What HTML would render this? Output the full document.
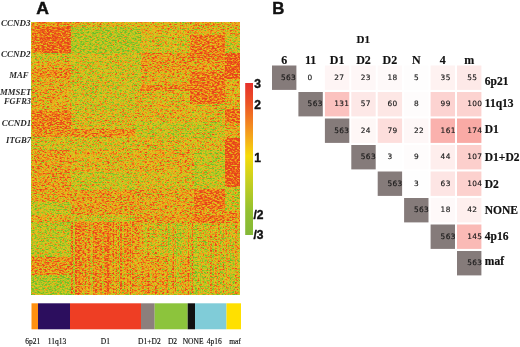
<!DOCTYPE html>
<html><head><meta charset="utf-8"><style>
html,body{margin:0;padding:0;background:#fff;width:520px;height:347px;overflow:hidden}
svg{display:block}
.pl{font-family:"Liberation Sans",Arial,sans-serif;font-weight:bold;font-size:16px;fill:#111;stroke:#111;stroke-width:0.4px}
.hd{font-family:"Liberation Serif","Times New Roman",serif;font-weight:bold;font-size:12px;fill:#111;stroke:#111;stroke-width:0.15px;text-anchor:middle}
.rl{font-family:"Liberation Serif","Times New Roman",serif;font-weight:bold;font-size:11.5px;fill:#111;stroke:#111;stroke-width:0.2px}
.nm{font-family:"DejaVu Sans","Liberation Sans",sans-serif;font-size:7.4px;letter-spacing:0.35px;fill:#1a1a1a;stroke:#1a1a1a;stroke-width:0.15px}
.gl{font-family:"Liberation Serif","Times New Roman",serif;font-style:italic;font-weight:bold;font-size:9px;fill:#2a2a2a;text-anchor:end}
.bl{font-family:"Liberation Serif","Times New Roman",serif;font-size:7.5px;fill:#111;stroke:#111;stroke-width:0.15px;text-anchor:middle}
.cl{font-family:"Liberation Sans",Arial,sans-serif;font-weight:bold;font-size:12px;fill:#111;stroke:#111;stroke-width:0.4px}
</style></head><body>
<svg width="520" height="347" viewBox="0 0 520 347">
<defs>
<filter id="hm" x="0" y="0" width="100%" height="100%" color-interpolation-filters="sRGB">
  <feTurbulence type="fractalNoise" baseFrequency="0.4 0.75" numOctaves="2" seed="7" result="t0"/>
  <feGaussianBlur in="t0" stdDeviation="0.55" result="t"/>
  <feColorMatrix in="t" type="matrix" values="1 0 0 0 0  1 0 0 0 0  1 0 0 0 0  0 0 0 0 1" result="n"/>
  <feComposite in="SourceGraphic" in2="n" operator="arithmetic" k1="0" k2="1" k3="1.7" k4="-0.85" result="s"/>
  <feComponentTransfer in="s">
    <feFuncR type="table" tableValues="0.431 0.549 0.714 0.902 0.941 0.933 0.902"/>
    <feFuncG type="table" tableValues="0.737 0.776 0.784 0.765 0.580 0.412 0.267"/>
    <feFuncB type="table" tableValues="0.157 0.157 0.137 0.118 0.098 0.098 0.110"/>
    <feFuncA type="linear" slope="0" intercept="1"/>
  </feComponentTransfer>
</filter>
<linearGradient id="cb" x1="0" y1="0" x2="0" y2="1">
  <stop offset="0" stop-color="#e6302b"/>
  <stop offset="0.13" stop-color="#ec5226"/>
  <stop offset="0.28" stop-color="#f38a20"/>
  <stop offset="0.375" stop-color="#f5b018"/>
  <stop offset="0.48" stop-color="#f6dc08"/>
  <stop offset="0.64" stop-color="#c8d020"/>
  <stop offset="0.84" stop-color="#94c030"/>
  <stop offset="1" stop-color="#84b838"/>
</linearGradient>
</defs>
<rect width="520" height="347" fill="#fff"/>
<text class="pl" transform="translate(36.3,13.8) scale(1.1,1)">A</text>
<text class="pl" transform="translate(272.3,13.8) scale(1.05,1)">B</text>
<g filter="url(#hm)">
<rect x="31.5" y="22" width="208.5" height="272.5" fill="#7a7a7a"/>
<rect x="31.5" y="22" width="39.5" height="5" fill="#adadad"/>
<rect x="31.5" y="27" width="8.5" height="26" fill="#c1c1c1"/>
<rect x="40" y="27" width="31" height="26" fill="#d6d6d6"/>
<rect x="71" y="22" width="70" height="5" fill="#878787"/>
<rect x="71" y="27" width="70" height="26" fill="#4e4e4e"/>
<rect x="141" y="22" width="49" height="13" fill="#878787"/>
<rect x="190" y="22" width="50" height="13" fill="#8e8e8e"/>
<rect x="141" y="35" width="49" height="18" fill="#747474"/>
<rect x="190" y="35" width="35" height="25" fill="#c1c1c1"/>
<rect x="225" y="35" width="15" height="18" fill="#6e6e6e"/>
<rect x="31.5" y="53" width="39.5" height="7" fill="#6e6e6e"/>
<rect x="31.5" y="60" width="39.5" height="8" fill="#8e8e8e"/>
<rect x="31.5" y="68" width="39.5" height="10" fill="#adadad"/>
<rect x="31.5" y="78" width="39.5" height="33" fill="#919191"/>
<rect x="71" y="53" width="70" height="58" fill="#6e6e6e"/>
<rect x="135" y="53" width="6" height="32" fill="#616161"/>
<rect x="141" y="53" width="49" height="19" fill="#a1a1a1"/>
<rect x="141" y="72" width="49" height="13" fill="#8e8e8e"/>
<rect x="141" y="85" width="49" height="6" fill="#b4b4b4"/>
<rect x="190" y="60" width="35" height="12" fill="#a1a1a1"/>
<rect x="190" y="72" width="35" height="32" fill="#c7c7c7"/>
<rect x="190" y="104" width="35" height="18" fill="#818181"/>
<rect x="225" y="53" width="15" height="26" fill="#e0e0e0"/>
<rect x="225" y="79" width="15" height="30" fill="#8e8e8e"/>
<rect x="225" y="109" width="15" height="14" fill="#cdcdcd"/>
<rect x="135" y="91" width="55" height="12" fill="#818181"/>
<rect x="135" y="103" width="55" height="19" fill="#878787"/>
<rect x="31.5" y="111" width="39.5" height="18" fill="#c1c1c1"/>
<rect x="71" y="111" width="64" height="18" fill="#7a7a7a"/>
<rect x="31.5" y="129" width="103.5" height="8" fill="#adadad"/>
<rect x="31.5" y="137" width="103.5" height="13" fill="#747474"/>
<rect x="135" y="122" width="90" height="16" fill="#676767"/>
<rect x="225" y="123" width="15" height="15" fill="#949494"/>
<rect x="135" y="138" width="90" height="12" fill="#818181"/>
<rect x="225" y="138" width="15" height="49" fill="#e7e7e7"/>
<rect x="31.5" y="150" width="39.5" height="42" fill="#9e9e9e"/>
<rect x="31.5" y="192" width="39.5" height="10" fill="#949494"/>
<rect x="31.5" y="202" width="39.5" height="13" fill="#616161"/>
<rect x="31.5" y="215" width="39.5" height="7" fill="#949494"/>
<rect x="71" y="150" width="64" height="22" fill="#878787"/>
<rect x="71" y="172" width="64" height="18" fill="#676767"/>
<rect x="71" y="190" width="64" height="25" fill="#a1a1a1"/>
<rect x="71" y="215" width="64" height="7" fill="#6e6e6e"/>
<rect x="135" y="150" width="59" height="22" fill="#8e8e8e"/>
<rect x="135" y="172" width="59" height="17" fill="#7a7a7a"/>
<rect x="135" y="189" width="59" height="26" fill="#969696"/>
<rect x="194" y="150" width="31" height="39" fill="#616161"/>
<rect x="194" y="189" width="31" height="20" fill="#c7c7c7"/>
<rect x="194" y="209" width="31" height="6" fill="#a1a1a1"/>
<rect x="225" y="187" width="15" height="24" fill="#676767"/>
<rect x="225" y="211" width="15" height="12" fill="#adadad"/>
<rect x="31.5" y="222" width="39.5" height="35" fill="#616161"/>
<rect x="31.5" y="257" width="39.5" height="18" fill="#adadad"/>
<rect x="31.5" y="275" width="39.5" height="19.5" fill="#4e4e4e"/>
<rect x="71" y="222" width="64" height="38" fill="#b0b0b0"/>
<rect x="71" y="260" width="64" height="34.5" fill="#a6a6a6"/>
<rect x="135" y="215" width="58" height="8" fill="#a1a1a1"/>
<rect x="193" y="215" width="32" height="8" fill="#c1c1c1"/>
<rect x="135" y="223" width="6" height="33" fill="#a1a1a1"/>
<rect x="141" y="223" width="99" height="33" fill="#6e6e6e"/>
<rect x="135" y="256" width="55" height="38.5" fill="#949494"/>
<rect x="190" y="256" width="50" height="38.5" fill="#616161"/>
<rect x="71.0" y="222" width="2.0" height="72.5" fill="#fff" fill-opacity="0.367"/>
<rect x="73.0" y="222" width="2.0" height="72.5" fill="#000" fill-opacity="0.412"/>
<rect x="75.0" y="222" width="2.0" height="72.5" fill="#fff" fill-opacity="0.372"/>
<rect x="77.0" y="222" width="1.0" height="72.5" fill="#000" fill-opacity="0.018"/>
<rect x="78.0" y="222" width="2.5" height="72.5" fill="#fff" fill-opacity="0.382"/>
<rect x="80.5" y="222" width="1.0" height="72.5" fill="#000" fill-opacity="0.059"/>
<rect x="81.5" y="222" width="1.0" height="72.5" fill="#fff" fill-opacity="0.146"/>
<rect x="82.5" y="222" width="2.5" height="72.5" fill="#000" fill-opacity="0.051"/>
<rect x="85.0" y="222" width="1.0" height="72.5" fill="#fff" fill-opacity="0.232"/>
<rect x="86.0" y="222" width="2.0" height="72.5" fill="#000" fill-opacity="0.159"/>
<rect x="88.0" y="222" width="2.5" height="72.5" fill="#fff" fill-opacity="0.230"/>
<rect x="90.5" y="222" width="2.5" height="72.5" fill="#000" fill-opacity="0.317"/>
<rect x="93.0" y="222" width="1.0" height="72.5" fill="#fff" fill-opacity="0.169"/>
<rect x="94.0" y="222" width="1.0" height="72.5" fill="#000" fill-opacity="0.066"/>
<rect x="95.0" y="222" width="2.5" height="72.5" fill="#fff" fill-opacity="0.307"/>
<rect x="97.5" y="222" width="2.0" height="72.5" fill="#000" fill-opacity="0.059"/>
<rect x="99.5" y="222" width="2.5" height="72.5" fill="#fff" fill-opacity="0.186"/>
<rect x="102.0" y="222" width="1.5" height="72.5" fill="#000" fill-opacity="0.283"/>
<rect x="103.5" y="222" width="2.0" height="72.5" fill="#fff" fill-opacity="0.118"/>
<rect x="105.5" y="222" width="1.5" height="72.5" fill="#000" fill-opacity="0.003"/>
<rect x="107.0" y="222" width="2.0" height="72.5" fill="#fff" fill-opacity="0.600"/>
<rect x="109.0" y="222" width="1.0" height="72.5" fill="#000" fill-opacity="0.014"/>
<rect x="110.0" y="222" width="1.5" height="72.5" fill="#fff" fill-opacity="0.081"/>
<rect x="111.5" y="222" width="1.5" height="72.5" fill="#000" fill-opacity="0.185"/>
<rect x="113.0" y="222" width="1.0" height="72.5" fill="#fff" fill-opacity="0.432"/>
<rect x="114.0" y="222" width="2.0" height="72.5" fill="#000" fill-opacity="0.204"/>
<rect x="116.0" y="222" width="1.0" height="72.5" fill="#fff" fill-opacity="0.158"/>
<rect x="117.0" y="222" width="1.0" height="72.5" fill="#000" fill-opacity="0.227"/>
<rect x="118.0" y="222" width="1.0" height="72.5" fill="#fff" fill-opacity="0.146"/>
<rect x="119.0" y="222" width="1.0" height="72.5" fill="#000" fill-opacity="0.600"/>
<rect x="120.0" y="222" width="2.0" height="72.5" fill="#fff" fill-opacity="0.312"/>
<rect x="122.0" y="222" width="2.0" height="72.5" fill="#000" fill-opacity="0.310"/>
<rect x="124.0" y="222" width="1.0" height="72.5" fill="#fff" fill-opacity="0.170"/>
<rect x="125.0" y="222" width="1.5" height="72.5" fill="#000" fill-opacity="0.075"/>
<rect x="126.5" y="222" width="1.5" height="72.5" fill="#fff" fill-opacity="0.215"/>
<rect x="128.0" y="222" width="2.0" height="72.5" fill="#000" fill-opacity="0.131"/>
<rect x="130.0" y="222" width="1.0" height="72.5" fill="#fff" fill-opacity="0.291"/>
<rect x="131.0" y="222" width="1.0" height="72.5" fill="#000" fill-opacity="0.328"/>
<rect x="132.0" y="222" width="1.0" height="72.5" fill="#fff" fill-opacity="0.316"/>
<rect x="133.0" y="222" width="2.5" height="72.5" fill="#000" fill-opacity="0.071"/>
<rect x="135.5" y="222" width="1.0" height="72.5" fill="#fff" fill-opacity="0.172"/>
<rect x="136.5" y="222" width="1.0" height="72.5" fill="#000" fill-opacity="0.059"/>
<rect x="137.5" y="222" width="2.0" height="72.5" fill="#fff" fill-opacity="0.086"/>
<rect x="139.5" y="222" width="2.0" height="72.5" fill="#000" fill-opacity="0.109"/>
<rect x="141.5" y="222" width="1.0" height="72.5" fill="#fff" fill-opacity="0.560"/>
<rect x="142.5" y="222" width="2.5" height="72.5" fill="#000" fill-opacity="0.002"/>
<rect x="145.0" y="222" width="1.5" height="72.5" fill="#fff" fill-opacity="0.056"/>
<rect x="146.5" y="222" width="1.0" height="72.5" fill="#000" fill-opacity="0.001"/>
<rect x="147.5" y="222" width="2.0" height="72.5" fill="#fff" fill-opacity="0.380"/>
<rect x="149.5" y="222" width="2.5" height="72.5" fill="#000" fill-opacity="0.010"/>
<rect x="152.0" y="222" width="1.0" height="72.5" fill="#fff" fill-opacity="0.152"/>
<rect x="153.0" y="222" width="2.0" height="72.5" fill="#000" fill-opacity="0.041"/>
<rect x="155.0" y="222" width="1.5" height="72.5" fill="#fff" fill-opacity="0.384"/>
<rect x="156.5" y="222" width="1.5" height="72.5" fill="#000" fill-opacity="0.023"/>
<rect x="158.0" y="222" width="2.0" height="72.5" fill="#fff" fill-opacity="0.109"/>
<rect x="160.0" y="222" width="2.5" height="72.5" fill="#000" fill-opacity="0.054"/>
<rect x="162.5" y="222" width="1.0" height="72.5" fill="#fff" fill-opacity="0.267"/>
<rect x="163.5" y="222" width="2.5" height="72.5" fill="#000" fill-opacity="0.026"/>
<rect x="166.0" y="222" width="2.0" height="72.5" fill="#fff" fill-opacity="0.260"/>
<rect x="168.0" y="222" width="2.5" height="72.5" fill="#000" fill-opacity="0.267"/>
<rect x="170.5" y="222" width="1.0" height="72.5" fill="#fff" fill-opacity="0.119"/>
<rect x="171.5" y="222" width="1.0" height="72.5" fill="#000" fill-opacity="0.132"/>
<rect x="172.5" y="222" width="1.5" height="72.5" fill="#fff" fill-opacity="0.433"/>
<rect x="174.0" y="222" width="1.0" height="72.5" fill="#000" fill-opacity="0.281"/>
<rect x="175.0" y="222" width="1.0" height="72.5" fill="#fff" fill-opacity="0.214"/>
<rect x="176.0" y="222" width="2.5" height="72.5" fill="#000" fill-opacity="0.331"/>
<rect x="178.5" y="222" width="1.0" height="72.5" fill="#fff" fill-opacity="0.107"/>
<rect x="179.5" y="222" width="2.0" height="72.5" fill="#000" fill-opacity="0.256"/>
<rect x="181.5" y="222" width="2.5" height="72.5" fill="#fff" fill-opacity="0.077"/>
<rect x="184.0" y="222" width="1.0" height="72.5" fill="#000" fill-opacity="0.041"/>
<rect x="185.0" y="222" width="1.0" height="72.5" fill="#fff" fill-opacity="0.214"/>
<rect x="186.0" y="222" width="2.0" height="72.5" fill="#000" fill-opacity="0.017"/>
<rect x="188.0" y="222" width="1.5" height="72.5" fill="#fff" fill-opacity="0.534"/>
<rect x="189.5" y="222" width="2.0" height="72.5" fill="#000" fill-opacity="0.290"/>
<rect x="191.5" y="222" width="1.5" height="72.5" fill="#fff" fill-opacity="0.600"/>
<rect x="193.0" y="222" width="1.0" height="72.5" fill="#000" fill-opacity="0.081"/>
<rect x="194.0" y="222" width="1.0" height="72.5" fill="#fff" fill-opacity="0.049"/>
<rect x="195.0" y="222" width="2.5" height="72.5" fill="#000" fill-opacity="0.355"/>
<rect x="197.5" y="222" width="2.5" height="72.5" fill="#fff" fill-opacity="0.173"/>
<rect x="200.0" y="222" width="1.0" height="72.5" fill="#000" fill-opacity="0.087"/>
<rect x="201.0" y="222" width="1.0" height="72.5" fill="#fff" fill-opacity="0.262"/>
<rect x="202.0" y="222" width="1.0" height="72.5" fill="#000" fill-opacity="0.121"/>
<rect x="203.0" y="222" width="1.0" height="72.5" fill="#fff" fill-opacity="0.218"/>
<rect x="204.0" y="222" width="2.5" height="72.5" fill="#000" fill-opacity="0.066"/>
<rect x="206.5" y="222" width="2.5" height="72.5" fill="#fff" fill-opacity="0.121"/>
<rect x="209.0" y="222" width="1.0" height="72.5" fill="#000" fill-opacity="0.021"/>
<rect x="210.0" y="222" width="2.0" height="72.5" fill="#fff" fill-opacity="0.406"/>
<rect x="212.0" y="222" width="2.5" height="72.5" fill="#000" fill-opacity="0.050"/>
<rect x="214.5" y="222" width="2.5" height="72.5" fill="#fff" fill-opacity="0.353"/>
<rect x="217.0" y="222" width="1.0" height="72.5" fill="#000" fill-opacity="0.123"/>
<rect x="218.0" y="222" width="2.0" height="72.5" fill="#fff" fill-opacity="0.368"/>
<rect x="220.0" y="222" width="1.0" height="72.5" fill="#000" fill-opacity="0.233"/>
<rect x="221.0" y="222" width="1.0" height="72.5" fill="#fff" fill-opacity="0.090"/>
<rect x="222.0" y="222" width="1.0" height="72.5" fill="#000" fill-opacity="0.064"/>
<rect x="223.0" y="222" width="1.5" height="72.5" fill="#fff" fill-opacity="0.450"/>
<rect x="224.5" y="222" width="1.0" height="72.5" fill="#000" fill-opacity="0.600"/>
<rect x="225.5" y="222" width="2.0" height="72.5" fill="#fff" fill-opacity="0.439"/>
<rect x="227.5" y="222" width="1.0" height="72.5" fill="#000" fill-opacity="0.131"/>
<rect x="228.5" y="222" width="1.5" height="72.5" fill="#fff" fill-opacity="0.254"/>
<rect x="230.0" y="222" width="1.0" height="72.5" fill="#000" fill-opacity="0.341"/>
<rect x="231.0" y="222" width="2.0" height="72.5" fill="#fff" fill-opacity="0.065"/>
<rect x="233.0" y="222" width="2.0" height="72.5" fill="#000" fill-opacity="0.024"/>
<rect x="235.0" y="222" width="2.5" height="72.5" fill="#fff" fill-opacity="0.411"/>
<rect x="237.5" y="222" width="2.0" height="72.5" fill="#000" fill-opacity="0.038"/>
<rect x="239.5" y="222" width="0.5" height="72.5" fill="#fff" fill-opacity="0.108"/>
</g>
<g class="gl">
<text transform="translate(30.6,25.6) scale(1.000,1)">CCND3</text>
<text transform="translate(30.4,57.2) scale(1.000,1)">CCND2</text>
<text transform="translate(28.6,77.5) scale(0.970,1)">MAF</text>
<text transform="translate(31.4,94.8) scale(0.965,1)">MMSET</text>
<text transform="translate(31.0,103.5) scale(0.930,1)">FGFR3</text>
<text transform="translate(31.2,126.0) scale(1.000,1)">CCND1</text>
<text transform="translate(31.0,142.9) scale(0.960,1)">ITGB7</text>
</g>
<rect x="245.2" y="83" width="7.8" height="152" fill="url(#cb)"/>
<g class="cl">
<text x="254.3" y="88.4">3</text>
<text x="254.3" y="108.5">2</text>
<text x="254.3" y="162">1</text>
<text x="253.5" y="219">/2</text>
<text x="253.5" y="238.5">/3</text>
</g>
<rect x="31.5" y="303.3" width="6.5" height="26" fill="#ff9010"/>
<rect x="38" y="303.3" width="32" height="26" fill="#2c0e5e"/>
<rect x="70" y="303.3" width="71" height="26" fill="#ee3e24"/>
<rect x="141" y="303.3" width="13.7" height="26" fill="#8c7f7c"/>
<rect x="154.7" y="303.3" width="33" height="26" fill="#8cc43c"/>
<rect x="187.7" y="303.3" width="7.3" height="26" fill="#111111"/>
<rect x="195" y="303.3" width="31.5" height="26" fill="#80ccd8"/>
<rect x="226.5" y="303.3" width="14.5" height="26" fill="#ffe000"/>
<g class="bl">
<text x="32.7" y="343.5">6p21</text>
<text x="57.0" y="343.5">11q13</text>
<text x="105.4" y="343.5">D1</text>
<text x="149.4" y="343.5">D1+D2</text>
<text x="172.5" y="343.5">D2</text>
<text x="193.1" y="343.5">NONE</text>
<text x="214.3" y="343.5">4p16</text>
<text x="235.0" y="343.5">maf</text>
</g>
<rect x="272.0" y="65.5" width="24.4" height="24.4" fill="#857b7a"/>
<rect x="298.4" y="65.5" width="24.4" height="24.4" fill="#ffffff"/>
<rect x="324.9" y="65.5" width="24.4" height="24.4" fill="#fef5f5"/>
<rect x="351.3" y="65.5" width="24.4" height="24.4" fill="#fef7f7"/>
<rect x="377.7" y="65.5" width="24.4" height="24.4" fill="#fef9f9"/>
<rect x="404.1" y="65.5" width="24.4" height="24.4" fill="#fefdfd"/>
<rect x="430.6" y="65.5" width="24.4" height="24.4" fill="#fef2f1"/>
<rect x="457.0" y="65.5" width="24.4" height="24.4" fill="#fde9e8"/>
<rect x="298.4" y="92.0" width="24.4" height="24.4" fill="#857b7a"/>
<rect x="324.9" y="92.0" width="24.4" height="24.4" fill="#fbc2bf"/>
<rect x="351.3" y="92.0" width="24.4" height="24.4" fill="#fde8e7"/>
<rect x="377.7" y="92.0" width="24.4" height="24.4" fill="#fde7e5"/>
<rect x="404.1" y="92.0" width="24.4" height="24.4" fill="#fefcfc"/>
<rect x="430.6" y="92.0" width="24.4" height="24.4" fill="#fcd3d1"/>
<rect x="457.0" y="92.0" width="24.4" height="24.4" fill="#fcd3d0"/>
<rect x="324.9" y="118.5" width="24.4" height="24.4" fill="#857b7a"/>
<rect x="351.3" y="118.5" width="24.4" height="24.4" fill="#fef7f6"/>
<rect x="377.7" y="118.5" width="24.4" height="24.4" fill="#fddedc"/>
<rect x="404.1" y="118.5" width="24.4" height="24.4" fill="#fef7f7"/>
<rect x="430.6" y="118.5" width="24.4" height="24.4" fill="#fab1ad"/>
<rect x="457.0" y="118.5" width="24.4" height="24.4" fill="#f9aaa5"/>
<rect x="351.3" y="145.0" width="24.4" height="24.4" fill="#857b7a"/>
<rect x="377.7" y="145.0" width="24.4" height="24.4" fill="#fefefe"/>
<rect x="404.1" y="145.0" width="24.4" height="24.4" fill="#fefcfc"/>
<rect x="430.6" y="145.0" width="24.4" height="24.4" fill="#feeeed"/>
<rect x="457.0" y="145.0" width="24.4" height="24.4" fill="#fccfcc"/>
<rect x="377.7" y="171.5" width="24.4" height="24.4" fill="#857b7a"/>
<rect x="404.1" y="171.5" width="24.4" height="24.4" fill="#fefefe"/>
<rect x="430.6" y="171.5" width="24.4" height="24.4" fill="#fde5e4"/>
<rect x="457.0" y="171.5" width="24.4" height="24.4" fill="#fcd1ce"/>
<rect x="404.1" y="198.0" width="24.4" height="24.4" fill="#857b7a"/>
<rect x="430.6" y="198.0" width="24.4" height="24.4" fill="#fef9f9"/>
<rect x="457.0" y="198.0" width="24.4" height="24.4" fill="#feefee"/>
<rect x="430.6" y="224.5" width="24.4" height="24.4" fill="#857b7a"/>
<rect x="457.0" y="224.5" width="24.4" height="24.4" fill="#fabab6"/>
<rect x="457.0" y="251.0" width="24.4" height="24.4" fill="#857b7a"/>
<g class="nm">
<text x="281.0" y="79.7">563</text>
<text x="307.6" y="79.7">0</text>
<text x="334.2" y="79.7">27</text>
<text x="360.8" y="79.7">23</text>
<text x="387.4" y="79.7">18</text>
<text x="414.0" y="79.7">5</text>
<text x="440.6" y="79.7">35</text>
<text x="467.2" y="79.7">55</text>
<text x="307.6" y="106.2">563</text>
<text x="334.2" y="106.2">131</text>
<text x="360.8" y="106.2">57</text>
<text x="387.4" y="106.2">60</text>
<text x="414.0" y="106.2">8</text>
<text x="440.6" y="106.2">99</text>
<text x="467.2" y="106.2">100</text>
<text x="334.2" y="132.7">563</text>
<text x="360.8" y="132.7">24</text>
<text x="387.4" y="132.7">79</text>
<text x="414.0" y="132.7">22</text>
<text x="440.6" y="132.7">161</text>
<text x="467.2" y="132.7">174</text>
<text x="360.8" y="159.2">563</text>
<text x="387.4" y="159.2">3</text>
<text x="414.0" y="159.2">9</text>
<text x="440.6" y="159.2">44</text>
<text x="467.2" y="159.2">107</text>
<text x="387.4" y="185.7">563</text>
<text x="414.0" y="185.7">3</text>
<text x="440.6" y="185.7">63</text>
<text x="467.2" y="185.7">104</text>
<text x="414.0" y="212.2">563</text>
<text x="440.6" y="212.2">18</text>
<text x="467.2" y="212.2">42</text>
<text x="440.6" y="238.7">563</text>
<text x="467.2" y="238.7">145</text>
<text x="467.2" y="265.2">563</text>
</g>
<g class="hd">
<text x="284.2" y="63.7">6</text>
<text x="310.6" y="63.7">11</text>
<text x="337.1" y="63.7">D1</text>
<text x="363.5" y="63.7">D2</text>
<text x="389.9" y="63.7">D2</text>
<text x="416.3" y="63.7">N</text>
<text x="442.8" y="63.7">4</text>
<text x="469.2" y="63.7">m</text>
<text x="363.3" y="42.6" style="font-size:11px">D1</text>
</g>
<g class="rl">
<text x="484.8" y="84.7">6p21</text>
<text x="484.8" y="107.4">11q13</text>
<text x="484.8" y="132.8">D1</text>
<text x="484.8" y="160.5">D1+D2</text>
<text x="484.8" y="187.7">D2</text>
<text x="484.8" y="213.6">NONE</text>
<text x="484.8" y="240.4">4p16</text>
<text x="484.8" y="265.0">maf</text>
</g>
</svg>
</body></html>
